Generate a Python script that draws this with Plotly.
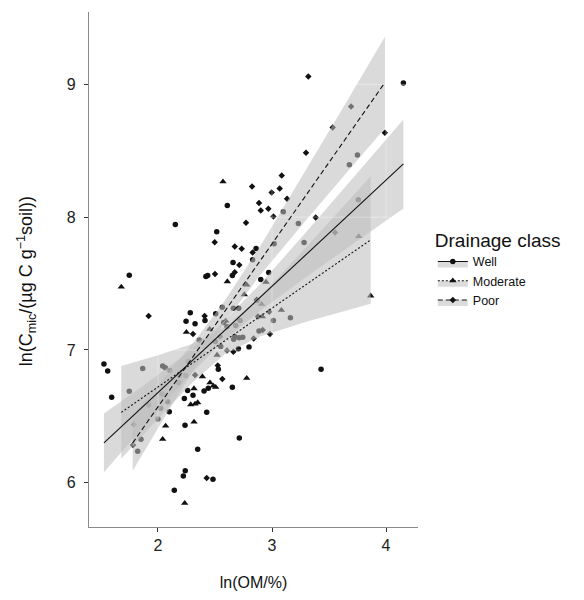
import plotly.graph_objects as go

# ---------------- data ----------------
# Well drainage (circles)
well_x = [4.152, 2.608, 2.152, 2.515, 2.658, 2.652, 2.420, 2.436, 2.901, 1.748, 2.283, 2.246,
          2.325, 2.798, 2.529, 3.430, 1.526, 1.559, 1.594, 2.099, 2.231, 2.307, 2.237, 2.348,
          2.239, 2.222, 2.143, 2.441, 2.404, 2.652, 2.427, 2.713, 2.482,
          3.749, 3.678, 3.099, 3.231, 3.757, 3.281, 2.860, 2.830, 2.971, 3.018, 2.868, 2.412,
          2.362, 2.506, 2.661, 2.708, 2.576, 2.682, 2.719, 2.605, 2.503, 2.673, 2.711, 2.743,
          2.664, 2.705, 2.886, 3.012, 3.161, 2.550, 1.866, 2.041, 2.064, 2.105, 2.266, 2.243,
          2.187, 2.181, 1.748, 1.918, 2.035, 2.085, 2.023, 2.000, 1.851, 1.822, 2.260, 2.564]
well_y = [9.010, 8.088, 7.945, 7.890, 7.659, 7.561, 7.553, 7.560, 7.530, 7.563, 7.280, 7.217,
          7.197, 7.023, 6.855, 6.855, 6.895, 6.842, 6.644, 6.534, 6.634, 6.659, 6.433, 6.252,
          6.091, 6.051, 5.944, 6.712, 6.692, 6.720, 6.531, 6.338, 6.026,
          8.468, 8.395, 8.041, 7.953, 8.131, 7.809, 7.764, 7.679, 7.583, 7.800, 7.372, 7.222,
          7.076, 7.272, 7.315, 7.315, 7.207, 7.184, 7.222, 7.174, 7.063, 7.101, 7.093, 7.096,
          7.081, 7.010, 7.142, 7.222, 7.242, 7.026, 6.860, 6.880, 6.867, 6.845, 6.913, 6.807,
          6.810, 6.754, 6.690, 6.586, 6.669, 6.611, 6.561, 6.481, 6.328, 6.237, 6.694, 7.322]

# Moderate drainage (triangles)
mod_x = [2.570, 2.608, 2.757, 1.678, 2.249, 2.915, 2.778, 3.865, 2.067, 2.041, 2.316, 2.287,
         2.325, 2.348, 2.316, 2.234, 2.456, 2.485, 2.506,
         2.778, 2.947, 2.453, 2.909, 3.082, 2.518, 3.760, 2.389, 2.594]
mod_y = [8.267, 7.515, 7.417, 7.475, 7.134, 7.252, 6.788, 7.408, 6.428, 6.328, 6.709, 6.589,
         6.594, 6.604, 6.458, 5.846, 6.754, 6.729, 6.720,
         7.491, 7.511, 7.157, 7.345, 7.300, 6.962, 7.855, 6.800, 7.219]

# Poor drainage (diamonds)
poor_x = [3.318, 3.989, 3.298, 3.085, 2.825, 3.067, 2.997, 2.886, 2.901, 2.968, 3.012, 2.772,
          3.383, 2.497, 2.673, 2.734, 2.713, 2.673, 2.500, 1.918, 2.564, 2.325, 2.427,
          3.693, 3.532, 3.132, 3.553, 2.830, 2.409, 2.307, 2.544, 2.661, 2.605, 2.839, 2.918,
          2.982, 2.976, 2.877, 2.866, 2.524, 2.193, 1.789, 1.781]
poor_y = [9.060, 8.636, 8.485, 8.314, 8.231, 8.216, 8.186, 8.106, 8.050, 8.063, 8.005, 7.958,
          7.998, 7.812, 7.779, 7.762, 7.639, 7.586, 7.573, 7.255, 6.782, 6.812, 6.036,
          8.834, 8.676, 8.139, 7.885, 7.734, 7.255, 7.121, 7.101, 6.986, 6.996, 7.086, 7.151,
          7.121, 7.287, 7.252, 7.378, 6.883, 6.825, 6.438, 6.285]

# Fitted lines and 95% confidence bands
well_band_x = [1.526, 1.9, 2.25, 2.55, 2.9, 3.3, 3.7, 4.152]
well_fit = [6.300, 6.599, 6.879, 7.119, 7.399, 7.719, 8.039, 8.401]
well_lo = [6.079, 6.449, 6.786, 7.048, 7.298, 7.550, 7.793, 8.066]
well_hi = [6.521, 6.749, 6.973, 7.190, 7.500, 7.888, 8.285, 8.736]

mod_band_x = [1.678, 2.0, 2.3, 2.59, 2.9, 3.3, 3.865]
mod_fit = [6.530, 6.721, 6.899, 7.072, 7.256, 7.493, 7.829]
mod_lo = [6.180, 6.482, 6.753, 6.972, 7.104, 7.213, 7.349]
mod_hi = [6.880, 6.960, 7.045, 7.172, 7.408, 7.773, 8.309]

poor_band_x = [1.778, 2.1, 2.35, 2.59, 2.9, 3.3, 3.65, 3.99]
poor_fit = [6.300, 6.695, 7.002, 7.296, 7.677, 8.167, 8.597, 9.014]
poor_lo = [6.090, 6.553, 6.904, 7.216, 7.568, 7.979, 8.331, 8.669]
poor_hi = [6.510, 6.837, 7.100, 7.376, 7.786, 8.355, 8.863, 9.359]

classes = ["Well", "Moderate", "Poor"]
x_ticks = [2, 3, 4]
y_ticks = [6, 7, 8, 9]
x_range = [1.395, 4.28]
y_range = [5.667, 9.545]

# ---------------- styling ----------------
symbols = {"Well": "circle", "Moderate": "triangle-up", "Poor": "diamond"}
sizes = {"Well": 5.5, "Moderate": 6.5, "Poor": 5}
dashes = {"Well": "solid", "Moderate": "2px,2px", "Poor": "5px,3px"}
ribbon = "rgba(190,190,190,0.57)"
ink = "#111111"

pts = {"Well": (well_x, well_y), "Moderate": (mod_x, mod_y), "Poor": (poor_x, poor_y)}
bands = {"Well": (well_band_x, well_fit, well_lo, well_hi),
         "Moderate": (mod_band_x, mod_fit, mod_lo, mod_hi),
         "Poor": (poor_band_x, poor_fit, poor_lo, poor_hi)}

fig = go.Figure()

# points first (ribbons are drawn over them)
for c in classes:
    x, y = pts[c]
    fig.add_trace(go.Scatter(x=x, y=y, mode="markers", showlegend=False,
                             marker=dict(symbol=symbols[c], size=sizes[c], color=ink,
                                         line=dict(width=0))))

# confidence ribbons
for c in classes:
    bx, fit, lo, hi = bands[c]
    fig.add_trace(go.Scatter(x=bx + bx[::-1], y=hi + lo[::-1], mode="lines",
                             fill="toself", fillcolor=ribbon, line=dict(width=0),
                             hoverinfo="skip", showlegend=False))

# faint white grid showing through the ribbons
gx, gy = [], []
for t in x_ticks:
    gx += [t, t, None]
    gy += [y_range[0], y_range[1], None]
for t in y_ticks:
    gx += [x_range[0], x_range[1], None]
    gy += [t, t, None]
fig.add_trace(go.Scatter(x=gx, y=gy, mode="lines", showlegend=False, hoverinfo="skip",
                         line=dict(color="rgba(255,255,255,0.45)", width=0.8)))

# fitted lines
for c in classes:
    bx, fit, lo, hi = bands[c]
    fig.add_trace(go.Scatter(x=bx, y=fit, mode="lines", showlegend=False,
                             line=dict(color=ink, width=1.1, dash=dashes[c])))

# legend entries
for c in classes:
    fig.add_trace(go.Scatter(x=[None], y=[None], name=c, mode="lines+markers",
                             fill="toself", fillcolor="rgba(190,190,190,0.55)",
                             line=dict(color=ink, width=1.1, dash=dashes[c]),
                             marker=dict(symbol=symbols[c], size=sizes[c], color=ink)))

axis_common = dict(showgrid=False, zeroline=False, showline=True, linecolor="#8a8a8a",
                   linewidth=1.3, ticks="outside", ticklen=4, tickwidth=1, tickcolor="#333333",
                   tickfont=dict(size=16, color="#222222"))

fig.update_layout(
    width=584, height=600,
    margin=dict(l=89, r=166, t=12, b=73),
    paper_bgcolor="white", plot_bgcolor="white",
    font=dict(family="Liberation Sans, Arial, sans-serif", color="#111111"),
    xaxis=dict(range=x_range, tickvals=x_ticks, **axis_common,
               title=dict(text="ln(OM/%)", font=dict(size=16), standoff=23)),
    yaxis=dict(range=y_range, tickvals=y_ticks, ticklabelstandoff=5, **axis_common),
    legend=dict(x=1.045, y=0.592, xanchor="left", yanchor="top",
                title=dict(text="Drainage class", font=dict(size=19)),
                font=dict(size=12.5), itemwidth=30, tracegroupgap=0,
                bgcolor="rgba(0,0,0,0)"),
    showlegend=True,
    annotations=[dict(text="ln(C<sub>mic</sub>/(µg C g<sup>−1</sup>soil))",
                      xref="paper", yref="paper", x=-0.19, y=0.478,
                      xanchor="center", yanchor="middle", textangle=-90,
                      showarrow=False, font=dict(size=18, color="#111111"))],
)

fig.write_html("out.html")
